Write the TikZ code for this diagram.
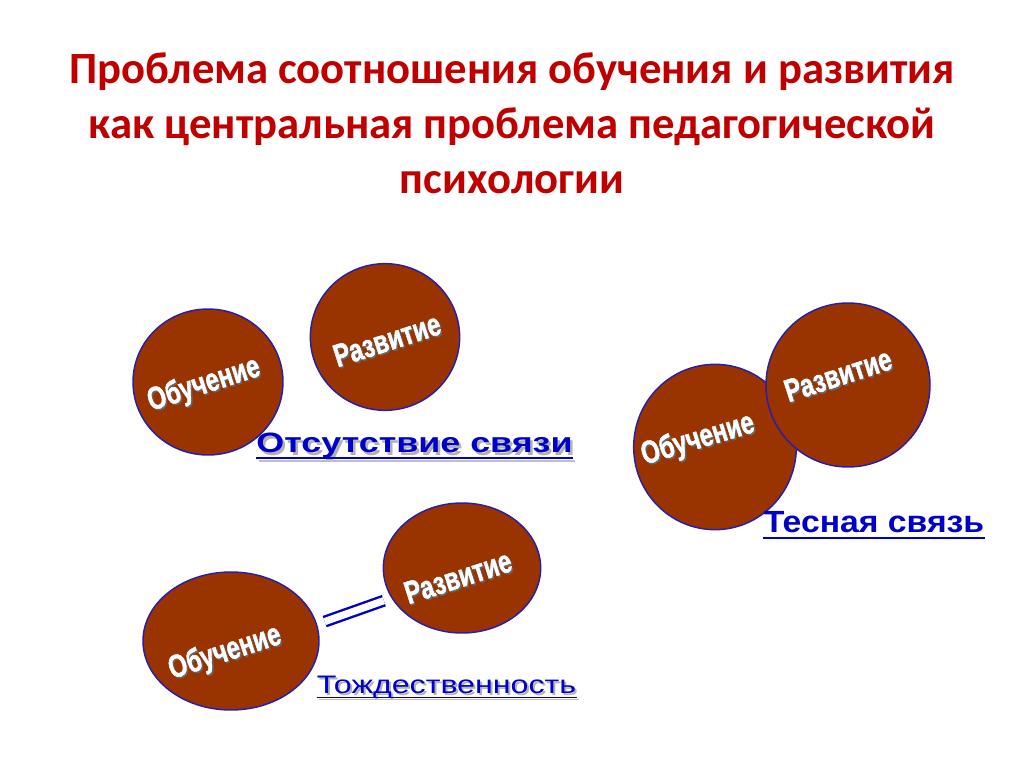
\documentclass[tikz,border=0pt]{standalone}
\usepackage{fontspec}
\setmainfont{Liberation Sans}
\newfontfamily\titlefont{Carlito}
\newfontfamily\wordartfont[BoldFeatures={FakeBold=1.6}]{Liberation Sans}
\usetikzlibrary{shapes.geometric}
\usepackage{xcolor}
\definecolor{titlered}{RGB}{192,0,0}
\definecolor{bubblefill}{RGB}{153,51,0}
\definecolor{bubbleline}{RGB}{40,30,170}
\definecolor{linkblue}{RGB}{0,0,200}

\tikzset{
  bubble/.style={ellipse, draw=bubbleline, fill=bubblefill, line width=1.1pt, inner sep=0pt},
  wlbl/.style={text=white, font=\wordartfont\fontsize{24}{24}\selectfont\bfseries, inner sep=0.75pt, rotate=18, xscale=0.75},
  wshadow/.style={text=black!60, font=\wordartfont\fontsize{24}{24}\selectfont\bfseries, inner sep=0.75pt, rotate=18, xscale=0.75},
  headline/.style={text=titlered, font=\titlefont\fontsize{33.5}{40}\selectfont\bfseries, anchor=base, inner sep=0pt},
  caption/.style={text=linkblue, anchor=base, inner sep=0pt},
  capshadow/.style={text=black!30, anchor=base, inner sep=0pt},
  uline/.style={draw=linkblue, line width=1.6pt},
}

\begin{document}
\begin{tikzpicture}[x=0.75pt,y=0.75pt,yscale=-1,xscale=1]
\useasboundingbox (0,0) rectangle (1024,767);

% Text Node
\node[headline] (title1) at (512,84) {Проблема соотношения обучения и развития};
% Text Node
\node[headline] (title2) at (512,138) {как центральная проблема педагогической};
% Text Node
\node[headline] (title3) at (512,193) {психологии};

%Shape: Ellipse
\node[bubble, minimum width=112.5pt, minimum height=109.5pt] (obA) at (208,382) {};
%Shape: Ellipse
\node[bubble, minimum width=112pt, minimum height=110pt] (razA) at (385,337) {};
%Shape: Ellipse
\node[bubble, minimum width=132pt, minimum height=103.5pt] (obB) at (231,641) {};
%Shape: Ellipse
\node[bubble, minimum width=118pt, minimum height=97.5pt] (razB) at (462,568) {};
%Shape: Ellipse
\node[bubble, minimum width=122pt, minimum height=124pt] (obC) at (715,447) {};
%Shape: Ellipse
\node[bubble, minimum width=123pt, minimum height=123pt] (razC) at (848,385) {};

% Text Node
\node[wshadow] (obAs) at (205.5,386.5) {Обучение};
\node[wlbl] (obAt) at (204,385) {Обучение};
% Text Node
\node[wshadow] (razAs) at (388.5,341.5) {Развитие};
\node[wlbl] (razAt) at (387,340) {Развитие};
% Text Node
\node[wshadow] (obBs) at (226.5,654.5) {Обучение};
\node[wlbl] (obBt) at (225,653) {Обучение};
% Text Node
\node[wshadow] (razBs) at (459.5,578.5) {Развитие};
\node[wlbl] (razBt) at (458,577) {Развитие};
% Text Node
\node[wshadow, rotate=-1] (obCs) at (699.5,441.5) {Обучение};
\node[wlbl, rotate=-1] (obCt) at (698,440) {Обучение};
% Text Node
\node[wshadow] (razCs) at (839.5,376.5) {Развитие};
\node[wlbl] (razCt) at (838,375) {Развитие};

%Straight Lines
\draw[linkblue, line width=1.8pt, double=white, double distance=5.4pt, shorten <=6pt, shorten >=6pt] (obB.11) -- (razB.203);

% Text Node
\node[capshadow, font=\fontsize{21}{21}\selectfont\bfseries, xscale=1.28] (capAs) at (417,455) {Отсутствие связи};
\draw[black!25, line width=1.6pt] ([yshift=4.5pt]capAs.base west) -- ([yshift=4.5pt]capAs.base east);
\node[caption, font=\fontsize{21}{21}\selectfont\bfseries, xscale=1.28] (capA) at (414.5,452) {Отсутствие связи};
\draw[uline] ([yshift=4.5pt]capA.base west) -- ([yshift=4.5pt]capA.base east);
% Text Node
\node[capshadow, font=\fontsize{19}{19}\selectfont, xscale=1.27] (capBs) at (448.5,695) {Тождественность};
\draw[black!25, line width=1.2pt] ([yshift=3.5pt]capBs.base west) -- ([yshift=3.5pt]capBs.base east);
\node[caption, font=\fontsize{19}{19}\selectfont, xscale=1.27] (capB) at (446.5,693) {Тождественность};
\draw[linkblue, line width=1.2pt] ([yshift=3.5pt]capB.base west) -- ([yshift=3.5pt]capB.base east);
% Text Node
\node[caption, font=\fontsize{23}{23}\selectfont\bfseries, xscale=1.1] (capC) at (874,532) {Тесная связь};
\draw[uline] ([yshift=4.5pt]capC.base west) -- ([yshift=4.5pt]capC.base east);

\end{tikzpicture}
\end{document}
